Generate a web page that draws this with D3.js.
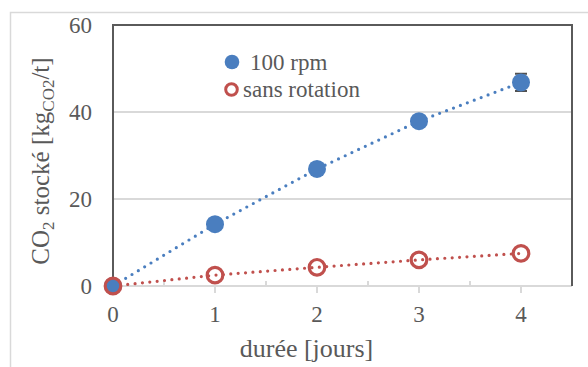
<!DOCTYPE html>
<html>
<head>
<meta charset="utf-8">
<script src="https://cdn.jsdelivr.net/npm/d3@7"></script>
<style>
  html, body { margin: 0; padding: 0; background: #fff; }
  svg { display: block; }
</style>
</head>
<body>
<svg id="chart" width="588" height="367" font-family="Liberation Serif"></svg>
<script>
// Stored CO2 versus duration, two series
const days = [0, 1, 2, 3, 4];
const rpm100 = [0, 14.2, 26.9, 37.9, 46.8];
const sansRotation = [0, 2.5, 4.3, 6.0, 7.5];
// error bar half-width on the last 100 rpm measurement
const rpm100Err = [0, 0, 0, 0, 2.0];
const xTicks = [0, 1, 2, 3, 4];
const xMinorTicks = [0.5, 1.5, 2.5, 3.5];
const yTicks = [0, 20, 40, 60];
const seriesNames = ["100 rpm", "sans rotation"];

const svg = d3.select("#chart");
const W = 588, H = 367;
const m = { left: 113, top: 25, right: 572, bottom: 286 };
const serif = "Liberation Serif";

const textCol = "#595959";
const gridCol = "#d9d9d9";
const blue = "#4a7ebf";
const red = "#c0504d";

// outer chart frame
svg.append("rect")
  .attr("x", 10.5).attr("y", 12.5)
  .attr("width", W).attr("height", H)
  .attr("fill", "none").attr("stroke", gridCol).attr("stroke-width", 1.5);

const x = d3.scaleLinear().domain([0, 4.5]).range([m.left, m.right]);
const y = d3.scaleLinear().domain([0, 60]).range([m.bottom, m.top]);

// horizontal gridlines
svg.append("g").selectAll("line")
  .data(yTicks.filter(v => v > 0 && v < 60))
  .join("line")
  .attr("x1", m.left).attr("x2", m.right)
  .attr("y1", d => y(d)).attr("y2", d => y(d))
  .attr("stroke", gridCol).attr("stroke-width", 2);

// x axis line with outward major ticks and inward minor ticks
svg.append("line")
  .attr("x1", m.left).attr("x2", m.right)
  .attr("y1", m.bottom).attr("y2", m.bottom)
  .attr("stroke", gridCol).attr("stroke-width", 2);
svg.append("g").selectAll("line")
  .data(xTicks).join("line")
  .attr("x1", d => x(d)).attr("x2", d => x(d))
  .attr("y1", m.bottom).attr("y2", m.bottom + 7)
  .attr("stroke", gridCol).attr("stroke-width", 2);
svg.append("g").selectAll("line")
  .data(xMinorTicks).join("line")
  .attr("x1", d => x(d)).attr("x2", d => x(d))
  .attr("y1", m.bottom).attr("y2", m.bottom - 5)
  .attr("stroke", gridCol).attr("stroke-width", 2);

// tick labels
svg.append("g").selectAll("text")
  .data(xTicks).join("text")
  .attr("x", d => x(d)).attr("y", m.bottom + 36)
  .attr("text-anchor", "middle")
  .attr("font-family", serif).attr("font-size", 23).attr("fill", textCol)
  .text(d => d3.format("d")(d));
svg.append("g").selectAll("text")
  .data(yTicks).join("text")
  .attr("x", m.left - 21).attr("y", d => y(d) + 8)
  .attr("text-anchor", "end")
  .attr("font-family", serif).attr("font-size", 23).attr("fill", textCol)
  .text(d => d3.format("d")(d));

// plot border: left, top, right
svg.append("path")
  .attr("d", `M${m.left},${m.bottom}V${m.top}H${m.right}V${m.bottom}`)
  .attr("fill", "none").attr("stroke", "#5a5a5a").attr("stroke-width", 2);

// dotted connecting lines
const line = d3.line().x((d, i) => x(days[i])).y(d => y(d));
function dotted(values, col) {
  svg.append("path")
    .attr("d", line(values))
    .attr("fill", "none").attr("stroke", col)
    .attr("stroke-width", 3.2).attr("stroke-linecap", "round")
    .attr("stroke-dasharray", "0 7.4");
}
dotted(rpm100, blue);
dotted(sansRotation, red);

// error bars on 100 rpm
svg.append("g").selectAll("path")
  .data(days.map((d, i) => ({ d, v: rpm100[i], e: rpm100Err[i] })).filter(p => p.e > 0))
  .join("path")
  .attr("d", p => `M${x(p.d) - 6},${y(p.v + p.e)}H${x(p.d) + 6}M${x(p.d)},${y(p.v + p.e)}V${y(p.v - p.e)}M${x(p.d) - 6},${y(p.v - p.e)}H${x(p.d) + 6}`)
  .attr("stroke", "#505050").attr("stroke-width", 2).attr("fill", "none");

// markers
svg.append("g").selectAll("circle")
  .data(rpm100).join("circle")
  .attr("cx", (d, i) => x(days[i])).attr("cy", d => y(d))
  .attr("r", 9).attr("fill", blue);

svg.append("g").selectAll("circle")
  .data(sansRotation).join("circle")
  .attr("cx", (d, i) => x(days[i])).attr("cy", d => y(d))
  .attr("r", 7.8).attr("fill", "none").attr("stroke", red).attr("stroke-width", 3.2);

// legend
const lg = svg.append("g");
lg.append("circle").attr("cx", 232).attr("cy", 62).attr("r", 7.3).attr("fill", blue);
lg.append("text").attr("x", 250).attr("y", 69.5)
  .attr("font-family", serif).attr("font-size", 23).attr("fill", textCol).text(seriesNames[0]);
lg.append("circle").attr("cx", 231.5).attr("cy", 89.5).attr("r", 5.8)
  .attr("fill", "none").attr("stroke", red).attr("stroke-width", 3);
lg.append("text").attr("x", 243).attr("y", 96.5)
  .attr("font-family", serif).attr("font-size", 23).attr("fill", textCol).text(seriesNames[1]);

// axis titles
svg.append("text")
  .attr("x", 306.5).attr("y", 356.5)
  .attr("text-anchor", "middle").attr("font-family", serif).attr("font-size", 26).attr("fill", textCol)
  .text("durée [jours]");

const yt = svg.append("text")
  .attr("transform", "translate(49,161) rotate(-90)")
  .attr("text-anchor", "middle").attr("font-family", serif).attr("font-size", 25).attr("fill", textCol);
yt.append("tspan").text("CO");
yt.append("tspan").attr("font-size", 17).attr("dy", 5).text("2");
yt.append("tspan").attr("dy", -5).text(" stocké [kg");
yt.append("tspan").attr("font-size", 17).attr("dy", 5).text("CO2");
yt.append("tspan").attr("dy", -5).text("/t]");
</script>
</body>
</html>
